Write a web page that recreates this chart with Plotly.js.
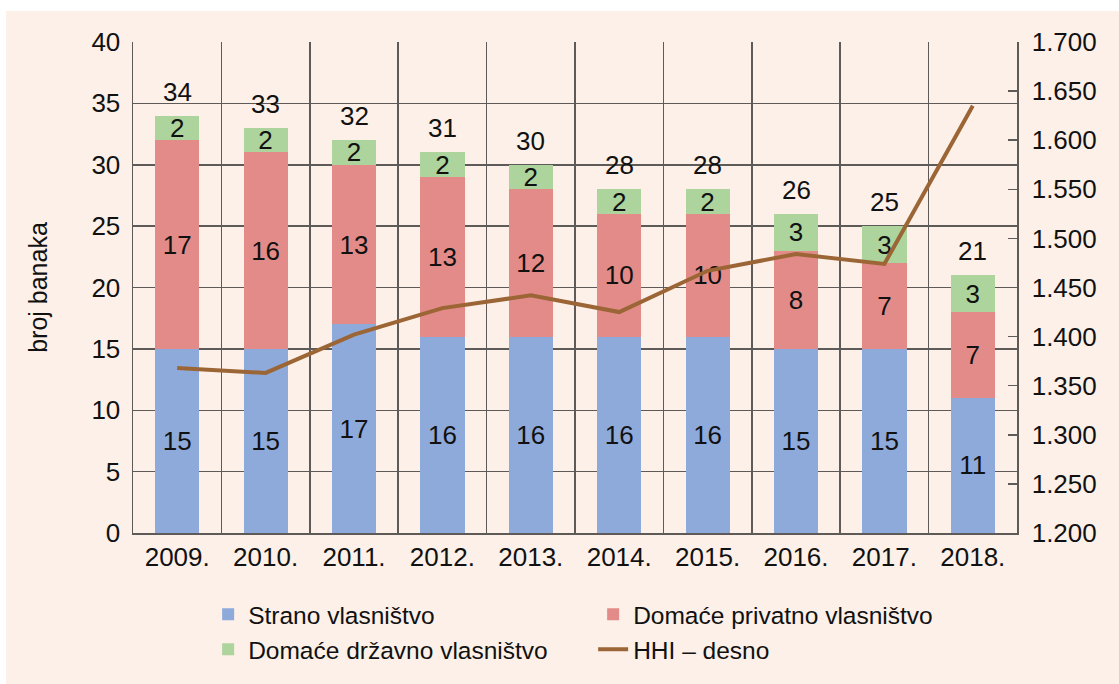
<!DOCTYPE html>
<html>
<head>
<meta charset="utf-8">
<script src="https://cdn.plot.ly/plotly-3.0.1.min.js"></script>
<style>
  html, body { margin: 0; padding: 0; background: #ffffff; }
  #chart { position: absolute; left: 6px; top: 11px; width: 1113px; height: 673px; }
</style>
</head>
<body>
<div id="chart"></div>
<script>
const years = ["2009.", "2010.", "2011.", "2012.", "2013.", "2014.", "2015.", "2016.", "2017.", "2018."];
const strano = [15, 15, 17, 16, 16, 16, 16, 15, 15, 11];
const domacePrivatno = [17, 16, 13, 13, 12, 10, 10, 8, 7, 7];
const domaceDrzavno = [2, 2, 2, 2, 2, 2, 2, 3, 3, 3];
const hhi = [1368, 1363, 1402, 1429, 1442, 1425, 1467, 1484, 1474, 1635];
const totals = years.map((_, i) => strano[i] + domacePrivatno[i] + domaceDrzavno[i]);

const FONT = '"Liberation Sans", Arial, sans-serif';
const FS = 26;
const TXT = '#111111';
const GRID = '#5e5a57';
const BG = '#fcf0e8';

function barTrace(name, vals, color) {
  return {
    type: 'bar', name: name, x: years, y: vals,
    marker: { color: color, line: { width: 0 } },
    width: 0.5,
    text: vals.map(String), textposition: 'inside', insidetextanchor: 'middle',
    textangle: 0, constraintext: 'none',
    textfont: { family: FONT, size: FS, color: TXT },
    hoverinfo: 'skip'
  };
}

const data = [
  barTrace('Strano vlasništvo', strano, '#8eaadb'),
  barTrace('Domaće privatno vlasništvo', domacePrivatno, '#e38b88'),
  barTrace('Domaće državno vlasništvo', domaceDrzavno, '#acd49c'),
  {
    type: 'scatter', mode: 'lines', name: 'HHI – desno', x: years, y: hhi,
    yaxis: 'y2', line: { color: '#9b6535', width: 4 }, hoverinfo: 'skip'
  }
];

// category index positions for the total labels
const annotations = years.map((yr, i) => ({
  x: i, y: totals[i], xref: 'x', yref: 'y', text: String(totals[i]),
  showarrow: false, yanchor: 'bottom', yshift: 7,
  font: { family: FONT, size: FS, color: TXT }
}));

const layout = {
  width: 1113, height: 673,
  paper_bgcolor: BG, plot_bgcolor: BG,
  margin: { l: 127, r: 102, t: 31, b: 151 },
  barmode: 'stack',
  separators: ',.',
  font: { family: FONT, size: FS, color: TXT },
  showlegend: true,
  annotations: annotations,
  xaxis: {
    type: 'category', categoryarray: years, categoryorder: 'array',
    tickson: 'boundaries', showgrid: true, gridcolor: GRID, gridwidth: 1.5,
    showline: true, linecolor: GRID, linewidth: 1.5, ticks: '', ticklen: 0,
    range: [-0.5, 9.5],
    tickfont: { family: FONT, size: FS, color: TXT }, fixedrange: true
  },
  yaxis: {
    range: [0, 40], dtick: 5, showgrid: true, gridcolor: GRID, gridwidth: 1.5,
    showline: true, linecolor: GRID, linewidth: 1.5, zeroline: false, ticks: '',
    ticklabelstandoff: 6,
    tickfont: { family: FONT, size: FS, color: TXT },
    title: { text: 'broj banaka', font: { family: FONT, size: 25, color: TXT }, standoff: 36 }
  },
  yaxis2: {
    overlaying: 'y', side: 'right', range: [1200, 1700], dtick: 50, tickformat: ',d',
    showgrid: false, zeroline: false, showline: true, linecolor: GRID, linewidth: 1.5,
    ticks: 'inside', ticklen: 9, tickcolor: GRID, tickwidth: 1.5,
    ticklabelstandoff: 8,
    tickfont: { family: FONT, size: FS, color: TXT }
  },
  legend: {
    orientation: 'h', x: 0.085, xanchor: 'left', y: -0.12, yanchor: 'top',
    entrywidth: 340, entrywidthmode: 'pixels', traceorder: 'normal',
    bgcolor: 'rgba(0,0,0,0)', font: { family: FONT, size: 24.5, color: TXT }
  }
};

Plotly.newPlot('chart', data, layout, { displayModeBar: false, staticPlot: true });
</script>
</body>
</html>
